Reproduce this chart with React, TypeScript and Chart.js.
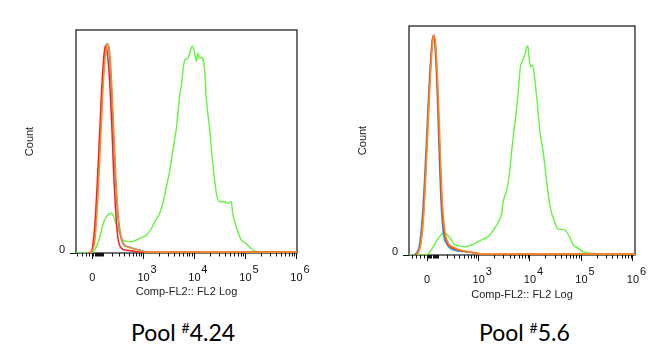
import React, { useEffect, useRef } from 'react';
import { Chart, registerables } from 'chart.js';

Chart.register(...registerables);

// ---------- axis definition (logicle-like display: channel = asinh(v/200)/ln10) ----------
const majorTickValues = [0, 1e3, 1e4, 1e5, 1e6];
const majorTickBase = ['0', '10', '10', '10', '10'];
const majorTickExp = ['', '3', '4', '5', '6'];
const negativeMinorTicks = [-150, -100, -60, -30];
const nearZeroMinorTicks = [10, 20, 30, 40, 50, 60, 70, 80, 90, 100];
const minorMultipliers = [2, 3, 4, 5, 6, 7, 8, 9];
const minorDecades = [100, 1000, 10000, 100000];

const xTitle = 'Comp-FL2:: FL2 Log';
const yTitle = 'Count';
const yTickLabel = '0';
const panelTitles = [
  { prefix: 'Pool ', mark: '#', suffix: '4.24' },
  { prefix: 'Pool ', mark: '#', suffix: '5.6' },
];

// ---------- data (x = display channel, y = % of max count) ----------
// Panel 1 (Pool #4.24)
const p1GreenX = [-0.32, 0.0, 0.05, 0.1, 0.15, 0.21, 0.28, 0.38, 0.44, 0.51, 0.6, 0.7, 0.8, 0.93, 1.06, 1.16, 1.22, 1.32, 1.39, 1.45, 1.52, 1.58, 1.65, 1.71, 1.74, 1.81, 1.87, 1.96, 2.0, 2.04, 2.07, 2.1, 2.13, 2.2, 2.23, 2.3, 2.36, 2.43, 2.49, 2.59, 2.66, 2.72, 2.75, 2.82, 2.92, 3.01, 3.11, 3.18, 3.4, 4.01];
const p1GreenY = [0, 0.3, 1.5, 4, 7.3, 13, 16.3, 17.8, 14.8, 10.3, 5.8, 5.1, 5.2, 6.6, 8.1, 11.1, 14.0, 17.8, 23.0, 29.7, 37.2, 46.2, 56.6, 70.1, 74.6, 86.5, 87.3, 92.8, 90.3, 85.8, 89.6, 87.3, 87.8, 82.1, 70.1, 55.2, 40.2, 26.8, 23.0, 23.0, 22.3, 23.0, 17.8, 11.8, 5.8, 4.3, 2.1, 0.9, 0.4, 0.3];
const p1RedX = [-0.08, -0.03, 0.0, 0.05, 0.1, 0.15, 0.2, 0.25, 0.27, 0.31, 0.34, 0.38, 0.41, 0.46, 0.5, 0.57, 0.65, 0.75, 0.9, 1.0, 4.01];
const p1RedY = [0, 0.5, 2, 13, 33, 57, 80, 92.5, 93, 86, 77, 58, 40, 18, 7, 2.1, 1.3, 1.0, 0.5, 0.3, 0.3];
const p1OrangeX = [-0.07, -0.05, 0.0, 0.05, 0.1, 0.15, 0.2, 0.25, 0.3, 0.33, 0.37, 0.42, 0.47, 0.52, 0.57, 0.62, 0.7, 0.8, 0.9, 1.0, 1.12, 4.01];
const p1OrangeY = [0, 0.2, 1, 6, 22, 45, 70, 88, 93.7, 92, 80, 55, 30, 14, 7, 4, 2.6, 2, 1.3, 0.6, 0.3, 0.3];
const p1BlueX = [-0.08, -0.05, 0.0, 0.05, 0.1, 0.15, 0.2, 0.25, 0.29, 0.33, 0.37, 0.42, 0.47, 0.52, 0.57, 0.62, 0.7, 0.8, 0.9, 1.0, 1.1, 4.01];
const p1BlueY = [0, 0.2, 1.5, 8, 26, 50, 75, 90, 94, 90, 76, 50, 26, 12, 6, 3.5, 2.8, 2, 1.5, 0.8, 0.3, 0.3];

// Panel 2 (Pool #5.6)
const p2GreenX = [-0.35, -0.04, 0.03, 0.12, 0.22, 0.32, 0.38, 0.45, 0.54, 0.64, 0.74, 0.87, 0.96, 1.09, 1.19, 1.29, 1.39, 1.45, 1.48, 1.55, 1.61, 1.64, 1.69, 1.74, 1.79, 1.81, 1.86, 1.9, 1.94, 1.96, 1.98, 2.01, 2.04, 2.07, 2.13, 2.19, 2.26, 2.32, 2.39, 2.49, 2.55, 2.65, 2.71, 2.78, 2.84, 2.94, 3.04, 3.23, 4.04];
const p2GreenY = [0, 0, 0.7, 3.6, 7.3, 9.5, 9.2, 7.3, 4.4, 3.9, 3.6, 4.4, 5.4, 6.9, 8.0, 10.9, 14.5, 18.2, 23.3, 28.4, 37.1, 44.4, 54.6, 64, 76, 81.5, 85.2, 87.3, 91.0, 91.3, 86.6, 82.2, 83.0, 80.8, 69.1, 54.6, 44.4, 32.8, 21.1, 13.8, 11.2, 11.2, 10.2, 7.3, 4.4, 2.9, 1.4, 0.7, 0.5];
const p2BlueX = [-0.26, -0.2, -0.15, -0.1, -0.05, 0.0, 0.05, 0.1, 0.125, 0.16, 0.2, 0.24, 0.28, 0.32, 0.38, 0.45, 0.55, 0.7, 0.9, 1.0, 1.1, 4.04];
const p2BlueY = [0, 1, 4, 14, 32, 55, 78, 93, 96, 90, 70, 42, 20, 9, 5, 3, 2, 1.5, 1.0, 0.5, 0.3, 0.3];
const p2RedX = [-0.24, -0.18, -0.13, -0.08, -0.03, 0.02, 0.07, 0.11, 0.13, 0.17, 0.21, 0.25, 0.29, 0.34, 0.4, 0.48, 0.6, 0.75, 0.9, 1.05, 4.04];
const p2RedY = [0, 1, 4.5, 15, 35, 60, 83, 94.5, 95.5, 89, 69, 43, 21, 9.5, 5, 3.2, 2.2, 1.5, 1.0, 0.5, 0.3];
const p2OrangeX = [-0.22, -0.17, -0.12, -0.07, -0.02, 0.03, 0.08, 0.12, 0.14, 0.18, 0.22, 0.26, 0.3, 0.35, 0.42, 0.5, 0.6, 0.75, 0.9, 1.05, 4.04];
const p2OrangeY = [0, 1, 5, 16, 37, 62, 84, 95, 96, 88, 68, 43, 22, 10, 5, 3.5, 2.5, 1.6, 1.0, 0.5, 0.4];

// ---------- styles ----------
const COLORS = { green: '#62f43e', red: '#ff1e1e', orange: '#ff8a1e', blue: '#22a6e6' };
const AXIS_FONT = "'Liberation Sans', Arial, sans-serif";
const CANVAS_H = 310;

const toChannel = (v: number) => Math.asinh(v / 200) / Math.LN10;

const minorTickValues: number[] = [...negativeMinorTicks, ...nearZeroMinorTicks];
minorDecades.forEach((d) => minorMultipliers.forEach((m) => minorTickValues.push(m * d)));

type Series = { label: string; xs: number[]; ys: number[]; color: string; width: number };
type PanelCfg = {
  left: number;
  width: number;
  area: { left: number; right: number; top: number; bottom: number };
  xMin: number;
  xMax: number;
  xTitleY: number;
};

const panel1Series: Series[] = [
  { label: 'orange', xs: p1OrangeX, ys: p1OrangeY, color: COLORS.orange, width: 1.5 },
  { label: 'red', xs: p1RedX, ys: p1RedY, color: COLORS.red, width: 1.5 },
  { label: 'blue', xs: p1BlueX, ys: p1BlueY, color: COLORS.blue, width: 1.5 },
  { label: 'green', xs: p1GreenX, ys: p1GreenY, color: COLORS.green, width: 1.4 },
];
const panel2Series: Series[] = [
  { label: 'orange', xs: p2OrangeX, ys: p2OrangeY, color: COLORS.orange, width: 1.6 },
  { label: 'red', xs: p2RedX, ys: p2RedY, color: COLORS.red, width: 1.5 },
  { label: 'blue', xs: p2BlueX, ys: p2BlueY, color: COLORS.blue, width: 1.6 },
  { label: 'green', xs: p2GreenX, ys: p2GreenY, color: COLORS.green, width: 1.4 },
];

const panel1: PanelCfg = { left: 0, width: 333, area: { left: 76, right: 297, top: 30, bottom: 253 }, xMin: -0.32, xMax: 4.01, xTitleY: 291.7 };
const panel2: PanelCfg = { left: 333, width: 334, area: { left: 76, right: 302, top: 26, bottom: 255 }, xMin: -0.35, xMax: 4.04, xTitleY: 295 };

const framePlugin = {
  id: 'frameAndTicks',
  beforeDatasetsDraw(chart: any) {
    const { ctx, chartArea } = chart;
    const xs = chart.scales.x;
    ctx.save();
    ctx.strokeStyle = '#111';
    ctx.lineWidth = 1.2;
    ctx.strokeRect(chartArea.left, chartArea.top, chartArea.right - chartArea.left, chartArea.bottom - chartArea.top);
    // minor ticks
    ctx.lineWidth = 1;
    ctx.beginPath();
    minorTickValues.forEach((v) => {
      const px = xs.getPixelForValue(toChannel(v));
      if (px < chartArea.left - 0.5 || px > chartArea.right + 0.5) return;
      const x = Math.round(px) + 0.5;
      ctx.moveTo(x, chartArea.bottom);
      ctx.lineTo(x, chartArea.bottom + 3.5);
    });
    ctx.stroke();
    ctx.restore();
  },
  afterDraw(chart: any) {
    const { ctx, chartArea } = chart;
    const xs = chart.scales.x;
    ctx.save();
    ctx.fillStyle = '#111';
    ctx.font = `11px ${AXIS_FONT}`;
    ctx.textAlign = 'center';
    ctx.textBaseline = 'middle';
    majorTickValues.forEach((v, i) => {
      if (!majorTickExp[i]) return;
      const px = xs.getPixelForValue(toChannel(v));
      ctx.fillText(majorTickExp[i], px + 10, chartArea.bottom + 16.5);
    });
    ctx.restore();
  },
};

function Panel({ cfg, series }: { cfg: PanelCfg; series: Series[] }) {
  const ref = useRef<HTMLCanvasElement>(null);
  useEffect(() => {
    const scaleBottom = cfg.xTitleY + 6.6 + 2;
    const chart = new Chart(ref.current as HTMLCanvasElement, {
      type: 'line',
      data: {
        datasets: series.map((s) => ({
          label: s.label,
          data: s.xs.map((x, i) => ({ x, y: s.ys[i] })),
          borderColor: s.color,
          borderWidth: s.width,
          pointRadius: 0,
          fill: false,
          cubicInterpolationMode: 'monotone' as const,
        })),
      },
      options: {
        animation: false,
        responsive: false,
        devicePixelRatio: 1,
        layout: {
          padding: { left: 0, top: cfg.area.top, right: cfg.width - cfg.area.right, bottom: CANVAS_H - scaleBottom },
        },
        plugins: { legend: { display: false }, tooltip: { enabled: false } },
        scales: {
          x: {
            type: 'linear',
            min: cfg.xMin,
            max: cfg.xMax,
            afterBuildTicks: (scale: any) => {
              scale.ticks = majorTickValues.map((v) => ({ value: toChannel(v) }));
            },
            afterFit: (scale: any) => {
              scale.height = scaleBottom - cfg.area.bottom;
            },
            grid: { drawOnChartArea: false, drawTicks: true, tickLength: 6, tickColor: '#111', tickWidth: 1 },
            border: { display: false },
            ticks: {
              autoSkip: false,
              maxRotation: 0,
              minRotation: 0,
              padding: 12,
              color: '#111',
              font: { family: AXIS_FONT, size: 11 },
              callback: (_v: any, i: number) => majorTickBase[i],
            },
            title: {
              display: true,
              text: xTitle,
              color: '#222',
              font: { family: AXIS_FONT, size: 11 },
              padding: { top: 0, bottom: 2 },
            },
          },
          y: {
            type: 'linear',
            min: 0,
            max: 100,
            afterBuildTicks: (scale: any) => {
              scale.ticks = [{ value: 0 }];
            },
            afterFit: (scale: any) => {
              scale.width = cfg.area.left;
            },
            grid: { drawOnChartArea: false, drawTicks: true, tickLength: 6, tickColor: '#111', tickWidth: 1 },
            border: { display: false },
            ticks: {
              padding: 5,
              labelOffset: -3,
              color: '#111',
              font: { family: AXIS_FONT, size: 11 },
              callback: () => yTickLabel,
            },
            title: {
              display: true,
              text: yTitle,
              color: '#222',
              font: { family: AXIS_FONT, size: 11 },
              padding: { top: 23, bottom: 0 },
            },
          },
        },
      },
      plugins: [framePlugin],
    } as any);
    return () => chart.destroy();
  }, [cfg, series]);
  return (
    <canvas
      ref={ref}
      width={cfg.width}
      height={CANVAS_H}
      style={{ position: 'absolute', left: cfg.left, top: 0, width: cfg.width, height: CANVAS_H }}
    />
  );
}

function PoolTitle({ left, t }: { left: number; t: { prefix: string; mark: string; suffix: string } }) {
  return (
    <div
      style={{
        position: 'absolute',
        left,
        top: 321,
        font: "23px Lato, 'Open Sans', sans-serif",
        lineHeight: '23px',
        color: '#000',
        whiteSpace: 'nowrap',
      }}
    >
      {t.prefix}
      <span style={{ fontSize: '14px', position: 'relative', top: '-8px' }}>{t.mark}</span>
      {t.suffix}
    </div>
  );
}

export default function App() {
  return (
    <div style={{ position: 'fixed', left: 0, top: 0, width: 667, height: 355, background: '#fff', overflow: 'hidden' }}>
      <Panel cfg={panel1} series={panel1Series} />
      <Panel cfg={panel2} series={panel2Series} />
      <PoolTitle left={131} t={panelTitles[0]} />
      <PoolTitle left={479} t={panelTitles[1]} />
    </div>
  );
}
